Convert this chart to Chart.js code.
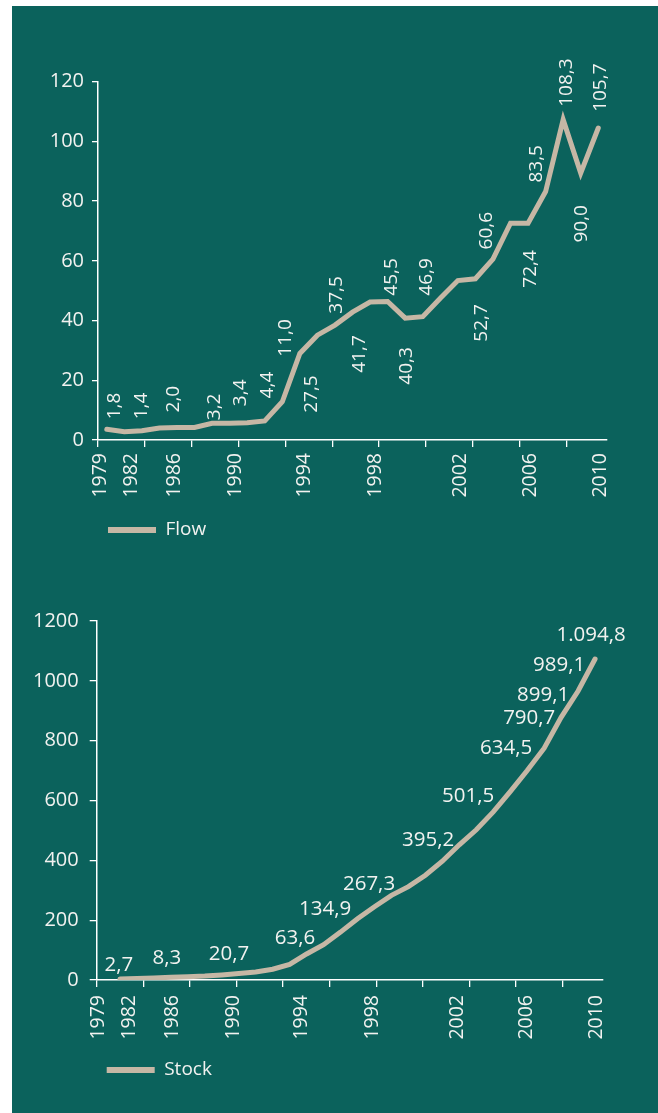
<!DOCTYPE html>
<html>
<head>
<meta charset="utf-8">
<script src="https://cdn.jsdelivr.net/npm/chart.js@4/dist/chart.umd.min.js"></script>
<style>
  html, body { margin: 0; padding: 0; background: #fff; }
  body { width: 658px; height: 1113px; overflow: hidden; position: relative; }
  .panel { position: absolute; left: 12px; top: 6px; width: 646px; height: 1107px; background: #0b625c; }
  canvas { display: block; }
</style>
</head>
<body>
<div class="panel">
  <canvas id="flowChart" width="646" height="553"></canvas>
  <canvas id="stockChart" width="646" height="554"></canvas>
</div>
<script>
// years plotted
const years = [1982, 1983, 1984, 1985, 1986, 1987, 1988, 1989, 1990, 1991,
               1992, 1993, 1994, 1995, 1996, 1997, 1998, 1999, 2000, 2001,
               2002, 2003, 2004, 2005, 2006, 2007, 2008, 2009, 2010];

// line values as drawn
const flowValues = [3.6, 2.8, 3.1, 4.0, 4.2, 4.2, 5.6, 5.6, 5.8, 6.4,
                    12.8, 29.0, 35.1, 38.5, 42.8, 46.2, 46.4, 40.8, 41.3, 47.5,
                    53.4, 54.0, 60.6, 72.6, 72.6, 83.2, 107.3, 89.4, 104.5];
const stockValues = [3, 5, 7, 9, 11, 13, 17, 22, 27, 36,
                     52, 87, 118, 160, 205, 245, 283, 312, 350, 397,
                     452, 502, 562, 630, 700, 775, 878, 966, 1073];

// printed value labels and where they sit (year, value)
const flowLabels = ['1,8', '1,4', '2,0', '3,2', '3,4', '4,4', '11,0', '27,5', '37,5', '41,7',
                    '45,5', '40,3', '46,9', '52,7', '60,6', '72,4', '83,5', '108,3', '90,0', '105,7'];
const flowLabelAt = [[1982.47, 11.4], [1983.99, 11.4], [1985.79, 13.7], [1988.17, 11.1], [1989.6, 15.8],
                     [1991.19, 18.4], [1992.16, 34.2], [1993.68, 15.4], [1995.1, 48.6], [1996.43, 28.8],
                     [1998.24, 54.6], [1999.09, 24.8], [2000.23, 54.6], [2003.37, 39.2], [2003.65, 70.1],
                     [2006.12, 57.3], [2006.5, 92.5], [2008.21, 119.7], [2009.07, 72.4], [2010.11, 118]];
const stockLabels = ['2,7', '8,3', '20,7', '63,6', '134,9', '267,3', '395,2',
                     '501,5', '634,5', '790,7', '899,1', '989,1', '1.094,8'];
const stockLabelAt = [[1981.94, 50], [1984.77, 74], [1988.43, 87], [1992.32, 141], [1994.09, 238],
                      [1996.68, 322], [2000.16, 469], [2002.52, 613], [2004.76, 774], [2006.12, 875],
                      [2006.94, 952], [2007.88, 1053], [2009.77, 1153]];

// x axis: year labels and tick marks, as fractions along the axis
const yearTickLabels = ['1979', '1982', '1986', '1990', '1994', '1998', '2002', '2006', '2010'];
const yearTickAt = [0.004, 0.065, 0.150, 0.271, 0.405, 0.545, 0.713, 0.850, 0.987];
const tickMarkAt = [0, 0.0921, 0.1842, 0.2763, 0.3684, 0.4605, 0.5526, 0.6447, 0.7368, 0.8289, 0.921];

const LINE = '#c6b7a5';
const TXT = '#f2f2f0';
const FONT = "'Open Sans', 'Noto Sans', sans-serif";

function labelPlugin(texts, at, rotate, size) {
    return {
        id: 'valueLabels',
        // legend sits under the plot, starting just right of the y axis
        afterLayout(chart) {
            const lg = chart.legend;
            const shift = chart.chartArea.left;
            lg.left += shift;
            lg.right += shift;
        },
        afterDatasetsDraw(chart) {
            const { ctx, scales } = chart;
            ctx.save();
            ctx.fillStyle = TXT;
            ctx.font = size + 'px ' + FONT;
            ctx.textAlign = 'center';
            ctx.textBaseline = 'middle';
            texts.forEach((t, i) => {
                const px = scales.xYear.getPixelForValue(at[i][0]);
                const py = scales.y.getPixelForValue(at[i][1]);
                ctx.save();
                ctx.translate(px, py);
                if (rotate) ctx.rotate(-Math.PI / 2);
                ctx.fillText(t, 0, 0);
                ctx.restore();
            });
            ctx.restore();
        }
    };
}

function makeChart(id, o) {
    const ctx = document.getElementById(id).getContext('2d');
    return new Chart(ctx, {
        type: 'line',
        data: {
            datasets: [{
                label: o.name,
                data: years.map((yr, i) => ({ x: yr, y: o.values[i] })),
                xAxisID: 'xYear',
                borderColor: LINE,
                backgroundColor: LINE,
                borderWidth: 5,
                borderCapStyle: 'round',
                pointRadius: 0,
                tension: 0
            }]
        },
        options: {
            responsive: false,
            animation: false,
            devicePixelRatio: 1,
            layout: { padding: o.padding },
            scales: {
                xYear: {
                    type: 'linear', display: false, bounds: 'data',
                    min: o.xMin, max: o.xMax
                },
                xTicks: {
                    type: 'linear', position: 'bottom', weight: 0, min: 0, max: 1, bounds: 'data',
                    afterBuildTicks: s => { s.ticks = tickMarkAt.map(v => ({ value: v })); },
                    grid: { display: true, drawOnChartArea: false, drawTicks: true, tickLength: 7, color: '#fff', lineWidth: 1.3 },
                    border: { display: true, color: '#fff', width: 1.5 },
                    ticks: { display: false }
                },
                xLabels: {
                    type: 'linear', position: 'bottom', weight: 1, min: 0, max: 1, bounds: 'data',
                    afterBuildTicks: s => { s.ticks = yearTickAt.map(v => ({ value: v })); },
                    afterFit: s => { s.height = o.labelAxisHeight; },
                    grid: { display: false, drawTicks: false },
                    border: { display: false },
                    ticks: {
                        autoSkip: false, minRotation: 90, maxRotation: 90, padding: o.xPad,
                        color: TXT, font: { family: FONT, size: 19.5 },
                        callback: (v, i) => yearTickLabels[i]
                    }
                },
                y: {
                    position: 'left', min: 0, max: o.yMax,
                    afterFit: s => { s.width = o.yWidth; },
                    grid: { display: true, drawOnChartArea: false, tickLength: o.yTick, color: '#fff', lineWidth: 1.3 },
                    border: { color: '#fff', width: 1.5 },
                    ticks: {
                        stepSize: o.yStep, padding: o.yPad, color: TXT, font: { family: FONT, size: 20 },
                        callback: v => String(v)
                    }
                }
            },
            plugins: {
                tooltip: { enabled: false },
                legend: {
                    position: 'bottom', align: 'start',
                    labels: {
                        boxWidth: 48, boxHeight: 6, padding: 10, color: TXT,
                        font: { family: FONT, size: 19 },
                        generateLabels: chart => Chart.defaults.plugins.legend.labels.generateLabels(chart)
                            .map(l => Object.assign(l, { lineWidth: 0, fillStyle: LINE }))
                    }
                }
            }
        },
        plugins: [labelPlugin(o.labels, o.labelAt, o.rotate, o.labelSize)]
    });
}

makeChart('flowChart', {
    name: 'Flow', values: flowValues, labels: flowLabels, labelAt: flowLabelAt, rotate: true, labelSize: 19,
    xMin: 1981.5, xMax: 2010.48, yMax: 120, yStep: 20, yWidth: 86, yTick: 6, yPad: 8, xPad: 6,
    labelAxisHeight: 63.5,
    padding: { left: 0, right: 51.3, top: 75.7, bottom: 9.5 }
});

makeChart('stockChart', {
    name: 'Stock', values: stockValues, labels: stockLabels, labelAt: stockLabelAt, rotate: false, labelSize: 20.5,
    xMin: 1980.63, xMax: 2010.45, yMax: 1200, yStep: 200, yWidth: 84.7, yTick: 7, yPad: 11, xPad: 8,
    labelAxisHeight: 63.5,
    padding: { left: 0, right: 55.3, top: 62, bottom: 23.5 }
});
</script>
</body>
</html>
